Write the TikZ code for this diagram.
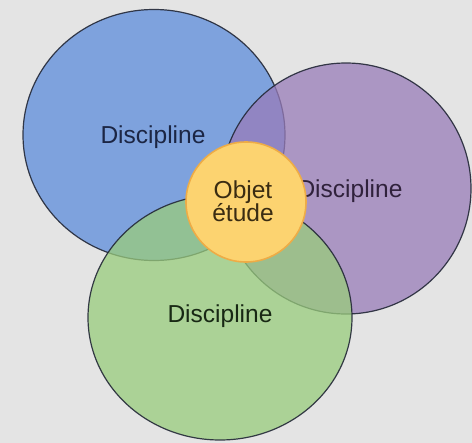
\documentclass[tikz,border=0pt]{standalone}
\usepackage{fontspec}
\setmainfont{Liberation Sans}
\usetikzlibrary{shapes.geometric}
\definecolor{bg}{RGB}{228,228,228}
\definecolor{cblue}{RGB}{93,141,219}
\definecolor{cpurple}{RGB}{152,124,185}
\definecolor{cgreen}{RGB}{153,204,124}
\definecolor{cyfill}{RGB}{252,211,112}
\definecolor{cyline}{RGB}{238,172,70}
\definecolor{edgecol}{RGB}{35,40,55}
\definecolor{tblue}{RGB}{28,38,68}
\definecolor{tpurple}{RGB}{48,34,60}
\definecolor{tgreen}{RGB}{24,40,20}
\definecolor{tyellow}{RGB}{58,44,18}
\begin{document}
\begin{tikzpicture}[x=0.75pt,y=-0.75pt,
  disc/.style={ellipse, draw=edgecol, line width=0.9pt, fill opacity=0.75, draw opacity=0.9, text opacity=1, inner sep=0pt},
  lbl/.style={font=\fontsize{18.4}{19}\selectfont, anchor=base, inner sep=0pt},
  ]
\fill[bg] (0,0) rectangle (472,443);
\useasboundingbox (0,0) rectangle (472,443);
\node[disc, fill=cblue, minimum width=196.5pt, minimum height=188.25pt] (blue) at (154,135) {};
\node[lbl, text=tblue] (tb) at (153,143) {Discipline};
\node[disc, fill=cpurple, minimum width=187.5pt, minimum height=188.25pt] (purple) at (346,188.5) {};
\node[lbl, text=tpurple] (tp) at (350,197) {Discipline};
\node[disc, fill=cgreen, minimum width=198pt, minimum height=183.75pt] (green) at (220,317.5) {};
\node[lbl, text=tgreen] (tg) at (220,322) {Discipline};
\node[circle, draw=cyline, fill=cyfill, line width=1.2pt, minimum size=90pt, inner sep=0pt] (obj) at (246,202) {};
\node[lbl, text=tyellow] (t1) at (243,198) {Objet};
\node[lbl, text=tyellow] (t2) at (243,221) {étude};
\end{tikzpicture}
\end{document}
